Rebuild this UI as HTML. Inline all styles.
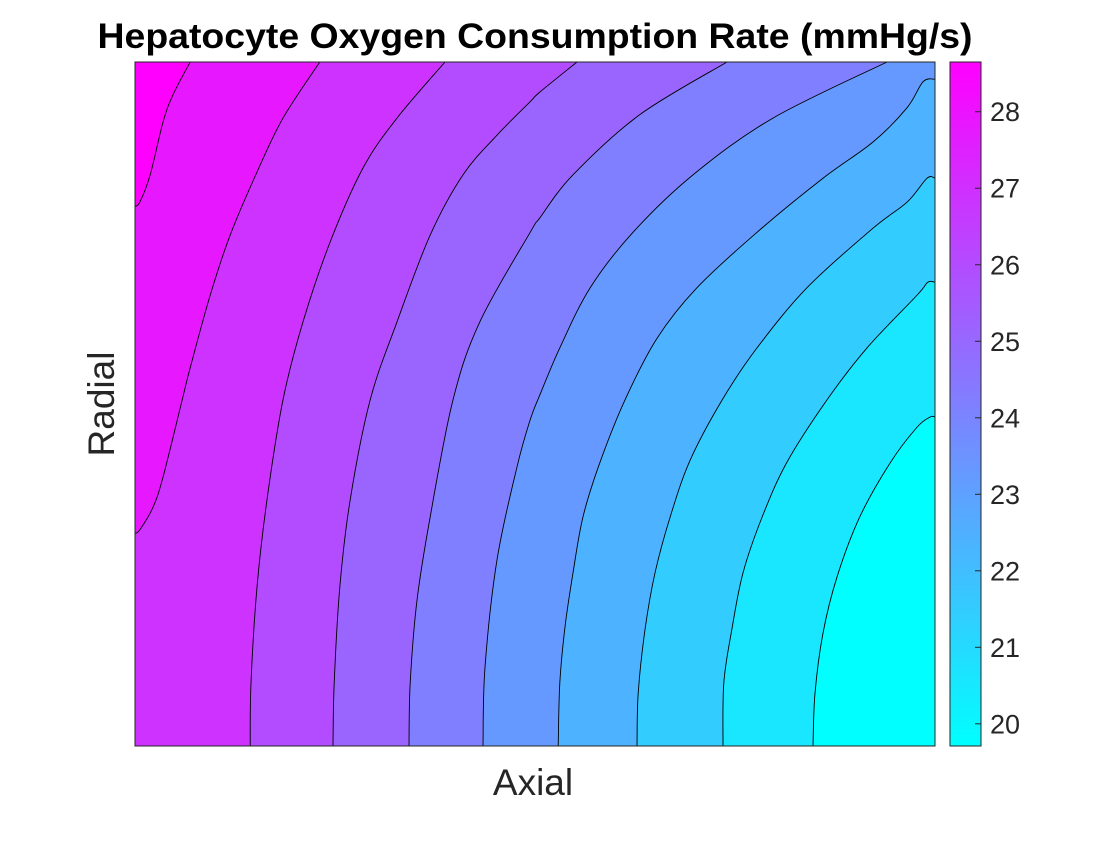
<!DOCTYPE html>
<html><head><meta charset="utf-8"><style>
body{margin:0;background:#fff;}
svg text{font-family:"Liberation Sans",sans-serif;}
</style></head><body>
<svg id="chart" width="1120" height="840" xmlns="http://www.w3.org/2000/svg">
<rect width="1120" height="840" fill="#fff"/>
<text x="535" y="48" text-anchor="middle" font-size="35" font-weight="bold" fill="#000" textLength="875" lengthAdjust="spacingAndGlyphs">Hepatocyte Oxygen Consumption Rate (mmHg/s)</text>
<text x="533" y="795" text-anchor="middle" font-size="37" fill="#262626">Axial</text>
<text transform="translate(114,404) rotate(-90)" text-anchor="middle" font-size="37" fill="#262626">Radial</text>
<g id="plot"></g>
<g id="cbar"></g>
</svg>
<script>
// contour levels (value at each line, lowest to highest)
const levels = [20.6, 21.5, 22.4, 23.3, 24.2, 25.1, 26.0, 26.9, 27.8, 28.7];
const cbarMin = 19.71, cbarMax = 28.65;
const cbarTicks = [20, 21, 22, 23, 24, 25, 26, 27, 28];
// contour lines: axial (0-100) and radial (0-100) coordinates
const L1x=[84.75,85,86,87.75,90.6,94.4,97.75,99.4,100];
const L1r=[0,7.7,16.5,24.7,33.5,41.4,46.6,48.1,48.1];
const L2x=[73.5,73.6,74.6,76,78.4,81.5,86.5,91.5,97.75,99.1,100];
const L2r=[0,9.2,17,25.3,33.5,41.5,50.6,58.2,65.9,67.8,67.8];
const L3x=[62.75,62.9,63.75,65,66.9,69.4,73.4,77.75,84,92.25,96.5,99,100];
const L3r=[0,7.7,17,25.3,33.5,41.8,50.6,58.2,67,75.7,79.5,83,83];
const L4x=[52.9,53.1,53.75,54.75,56,58.1,61.25,65.25,70.25,77.75,86,92.25,96.5,98.5,100];
const L4r=[0,9.2,17.4,25.3,33.5,41.4,50.6,59.6,67,75.1,83,88.3,93.3,97.1,97.5];
const L5x=[43.5,43.75,45.25,47.75,49.4,50.6,53.1,56.9,62.25,69.75,79.75,94];
const L5r=[0,11.5,27.2,40.8,47.7,51.3,58.2,67,75.1,83.5,91.8,100];
const L6x=[34.25,34.4,35.25,36.9,39.75,43.1,49.4,50.6,54.75,63.1,74];
const L6r=[0,9.2,21.3,33.5,50.6,62,75.1,77.2,83.5,92.3,100];
const L7x=[24.75,24.9,25.6,26.9,29.4,32.75,36.9,41,45.25,49.4,50.6,55.25];
const L7r=[0,9.2,23.2,36,50.6,62,74.7,83.5,89.3,94.2,95.6,100];
const L8x=[14.4,14.5,15.25,16.5,18.5,21,24.4,28.5,32.75,38.75];
const L8r=[0,9.2,23.2,36,50.6,62,73.7,84.5,91.8,100];
const L9x=[0,0.6,2.25,3.5,5.9,6.9,9.4,11.9,15.25,18.5,23.1];
const L9r=[31.1,31.6,34.9,39.3,50.6,55.3,65.9,74.7,83.9,91.8,100];
const L10x=[0,0.6,1.9,3.5,4.75,6.9];
const L10r=[78.9,79.5,83.5,91.2,95.2,100];
const linesX=[L1x,L2x,L3x,L4x,L5x,L6x,L7x,L8x,L9x,L10x];
const linesR=[L1r,L2r,L3r,L4r,L5r,L6r,L7r,L8r,L9r,L10r];

const NS='http://www.w3.org/2000/svg';
const PX0=135, PX1=935, PY0=62, PY1=746;
const sx = a => PX0 + a/100*(PX1-PX0);
const sy = r => PY1 - r/100*(PY1-PY0);
function cool(v){ let t=(v-cbarMin)/(cbarMax-cbarMin); t=Math.max(0,Math.min(1,t));
  return `rgb(${Math.round(255*t)},${Math.round(255*(1-t))},255)`; }
// Catmull-Rom smoothing -> path segments
function smooth(p){
  let d='';
  for(let i=0;i<p.length-1;i++){
    const p0=p[i-1]||p[i], p1=p[i], p2=p[i+1], p3=p[i+2]||p[i+1];
    const c1=[p1[0]+(p2[0]-p0[0])/6, p1[1]+(p2[1]-p0[1])/6];
    const c2=[p2[0]-(p3[0]-p1[0])/6, p2[1]-(p3[1]-p1[1])/6];
    d+=` C${c1[0]},${c1[1]} ${c2[0]},${c2[1]} ${p2[0]},${p2[1]}`;
  }
  return d;
}
const plot=document.getElementById('plot');
const base=document.createElementNS(NS,'rect');
base.setAttribute('x',PX0);base.setAttribute('y',PY0);base.setAttribute('width',PX1-PX0);base.setAttribute('height',PY1-PY0);
base.setAttribute('fill',cool(cbarMin));


plot.appendChild(base);
const screenLines=linesX.map((xs,k)=>xs.map((x,i)=>[sx(x),sy(linesR[k][i])]));
for(let k=0;k<linesX.length;k++){
  const xs=linesX[k], rs=linesR[k];
  const sp=screenLines[k];
  let d='M'+sp[0][0]+','+sp[0][1]+smooth(sp);
  if(xs[xs.length-1]>=100) d+=` L${sx(100)},${sy(100)}`;
  d+=` L${sx(0)},${sy(100)}`;
  if(rs[0]<=0) d+=` L${sx(0)},${sy(0)}`;
  d+=' Z';
  const poly=document.createElementNS(NS,'path');
  poly.setAttribute('d',d);
  poly.setAttribute('fill',cool(levels[k]));
  
  
  plot.appendChild(poly);
}
for(let k=0;k<linesX.length;k++){
  const sp=screenLines[k];
  const pl=document.createElementNS(NS,'path');
  pl.setAttribute('d','M'+sp[0][0]+','+sp[0][1]+smooth(sp));
  pl.setAttribute('fill','none');pl.setAttribute('stroke','#000');pl.setAttribute('stroke-width','0.9');
  
  
  plot.appendChild(pl);
}
const frame=document.createElementNS(NS,'rect');
frame.setAttribute('x',PX0);frame.setAttribute('y',PY0);frame.setAttribute('width',PX1-PX0);frame.setAttribute('height',PY1-PY0);
frame.setAttribute('fill','none');frame.setAttribute('stroke','#262626');frame.setAttribute('stroke-width','1');


plot.appendChild(frame);

// colorbar
const CB0=950, CB1=981;
const cy = v => PY1 - (v-cbarMin)/(cbarMax-cbarMin)*(PY1-PY0);
const cbar=document.getElementById('cbar');
const defs=document.createElementNS(NS,'defs');
defs.innerHTML='<linearGradient id="cg" x1="0" y1="1" x2="0" y2="0"><stop offset="0" stop-color="#00ffff"/><stop offset="1" stop-color="#ff00ff"/></linearGradient>';
cbar.appendChild(defs);
const cr=document.createElementNS(NS,'rect');
cr.setAttribute('x',CB0);cr.setAttribute('y',PY0);cr.setAttribute('width',CB1-CB0);cr.setAttribute('height',PY1-PY0);
cr.setAttribute('fill','url(#cg)');cr.setAttribute('stroke','#262626');cr.setAttribute('stroke-width','1');


cbar.appendChild(cr);
cbarTicks.forEach(v=>{
  const y=cy(v);
  const t=document.createElementNS(NS,'line');
  t.setAttribute('x1',CB1-6);t.setAttribute('x2',CB1);t.setAttribute('y1',y);t.setAttribute('y2',y);
  t.setAttribute('stroke','#262626');t.setAttribute('stroke-width','1');
  
  
  cbar.appendChild(t);
  const tx=document.createElementNS(NS,'text');
  tx.setAttribute('x',990);tx.setAttribute('y',y+9.5);tx.setAttribute('font-size','27');tx.setAttribute('fill','#262626');
  tx.textContent=v;
  
  
  cbar.appendChild(tx);
});
</script>
</body></html>
